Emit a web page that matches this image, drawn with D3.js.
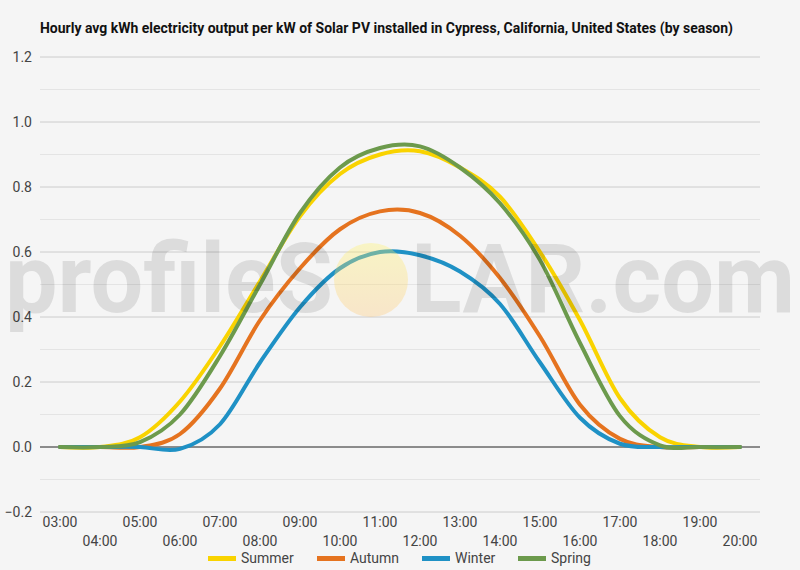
<!DOCTYPE html>
<html>
<head>
<meta charset="utf-8">
<script src="https://cdn.jsdelivr.net/npm/d3@7"></script>
<style>
    body { margin: 0; background: #f5f5f5; }
    svg { display: block; font-family: Roboto, sans-serif; }
</style>
</head>
<body>
<div id="chart"></div>
<script>
// hourly values
var hours = ["03:00", "04:00", "05:00", "06:00", "07:00", "08:00", "09:00", "10:00", "11:00",
    "12:00", "13:00", "14:00", "15:00", "16:00", "17:00", "18:00", "19:00", "20:00"];
var summer = [0, 0, 0.03, 0.14, 0.31, 0.51, 0.71, 0.84, 0.90, 0.91, 0.86, 0.77, 0.60, 0.39, 0.15, 0.03, 0, 0];
var autumn = [0, 0, 0, 0.04, 0.18, 0.39, 0.55, 0.67, 0.725, 0.72, 0.65, 0.52, 0.34, 0.13, 0.025, 0, 0, 0];
var winter = [0, 0, 0, -0.006, 0.07, 0.26, 0.43, 0.55, 0.60, 0.59, 0.54, 0.44, 0.26, 0.09, 0.01, 0, 0, 0];
var spring = [0, 0, 0.015, 0.10, 0.28, 0.50, 0.72, 0.86, 0.92, 0.925, 0.86, 0.75, 0.575, 0.32, 0.095, 0.005, 0, 0];
var seriesNames = ["Summer", "Autumn", "Winter", "Spring"];
var seriesColors = ["#f9d300", "#e5731f", "#1f91c5", "#6c9a4c"];
var yTicks = [-0.2, 0, 0.2, 0.4, 0.6, 0.8, 1.0, 1.2];
var yMinor = [-0.1, 0.1, 0.3, 0.5, 0.7, 0.9, 1.1];

var W = 800, H = 570;
var plotL = 40, plotR = 760, plotT = 57, plotB = 512;

var svg = d3.select("#chart")
    .append("svg")
    .attr("width", W)
    .attr("height", H);

svg.append("rect")
    .attr("width", W)
    .attr("height", H)
    .attr("fill", "#f5f5f5");

svg.append("text")
    .attr("x", 40)
    .attr("y", 33)
    .attr("font-size", "14px")
    .attr("font-weight", "bold")
    .attr("fill", "#111")
    .attr("textLength", 693)
    .attr("lengthAdjust", "spacingAndGlyphs")
    .text("Hourly avg kWh electricity output per kW of Solar PV installed in Cypress, California, United States (by season)");

var x = d3.scalePoint().domain(hours).range([plotL + 20, plotR - 20]);
var y = d3.scaleLinear().domain([-0.2, 1.2]).range([plotB, plotT]);

// gridlines
svg.append("g").selectAll("line")
    .data(yMinor)
    .enter().append("line")
    .attr("x1", plotL).attr("x2", plotR)
    .attr("y1", d => y(d)).attr("y2", d => y(d))
    .attr("stroke", "#e4e4e4")
    .attr("stroke-width", 1);
svg.append("g").selectAll("line")
    .data(yTicks)
    .enter().append("line")
    .attr("x1", plotL).attr("x2", plotR)
    .attr("y1", d => y(d)).attr("y2", d => y(d))
    .attr("stroke", d => d === 0 ? "#222" : "#cccccc")
    .attr("stroke-width", 1);

// y labels
svg.append("g").selectAll("text")
    .data(yTicks)
    .enter().append("text")
    .attr("x", 32)
    .attr("y", d => y(d) + 5)
    .attr("text-anchor", "end")
    .attr("font-size", "14px")
    .attr("fill", "#444")
    .text(d => d3.format(".1f")(d));

// x labels, staggered on two rows
svg.append("g").selectAll("text")
    .data(hours)
    .enter().append("text")
    .attr("x", d => x(d))
    .attr("y", (d, i) => i % 2 === 0 ? 527 : 546)
    .attr("text-anchor", "middle")
    .attr("font-size", "14px")
    .attr("fill", "#444")
    .text(d => d);

var allSeries = [summer, autumn, winter, spring];
var line = d3.line()
    .x((d, i) => x(hours[i]))
    .y(d => y(d))
    .curve(d3.curveCatmullRom.alpha(0));

for (var s = 0; s < allSeries.length; s++) {
    svg.append("path")
        .datum(allSeries[s])
        .attr("d", line)
        .attr("fill", "none")
        .attr("stroke", seriesColors[s])
        .attr("stroke-width", 4)
        .attr("stroke-linejoin", "round")
        .attr("stroke-linecap", "round");
}

// watermark on top of the lines
var defs = svg.append("defs");
var grad = defs.append("linearGradient")
    .attr("id", "sun")
    .attr("x1", 0).attr("y1", 0).attr("x2", 0).attr("y2", 1);
grad.append("stop").attr("offset", "0%").attr("stop-color", "#fff36a");
grad.append("stop").attr("offset", "100%").attr("stop-color", "#ffc878");

var wm = svg.append("g").attr("pointer-events", "none");
wm.append("text")
    .attr("x", 5)
    .attr("y", 312)
    .attr("font-size", "97px")
    .attr("font-weight", "bold")
    .attr("fill", "#000")
    .attr("fill-opacity", 0.1)
    .attr("textLength", 328)
    .attr("lengthAdjust", "spacingAndGlyphs")
    .text("profileS");
wm.append("circle")
    .attr("cx", 371)
    .attr("cy", 280)
    .attr("r", 37)
    .attr("fill", "url(#sun)")
    .attr("fill-opacity", 0.35);
wm.append("text")
    .attr("x", 411)
    .attr("y", 312)
    .attr("font-size", "97px")
    .attr("font-weight", "bold")
    .attr("fill", "#000")
    .attr("fill-opacity", 0.1)
    .attr("textLength", 384)
    .attr("lengthAdjust", "spacingAndGlyphs")
    .text("LAR.com");

// legend
var legendX = [208, 317, 422, 518];
for (var k = 0; k < seriesNames.length; k++) {
    svg.append("rect")
        .attr("x", legendX[k])
        .attr("y", 556)
        .attr("width", 28)
        .attr("height", 5)
        .attr("fill", seriesColors[k]);
    svg.append("text")
        .attr("x", legendX[k] + 33)
        .attr("y", 563)
        .attr("font-size", "14px")
        .attr("fill", "#444")
        .text(seriesNames[k]);
}
</script>
</body>
</html>
